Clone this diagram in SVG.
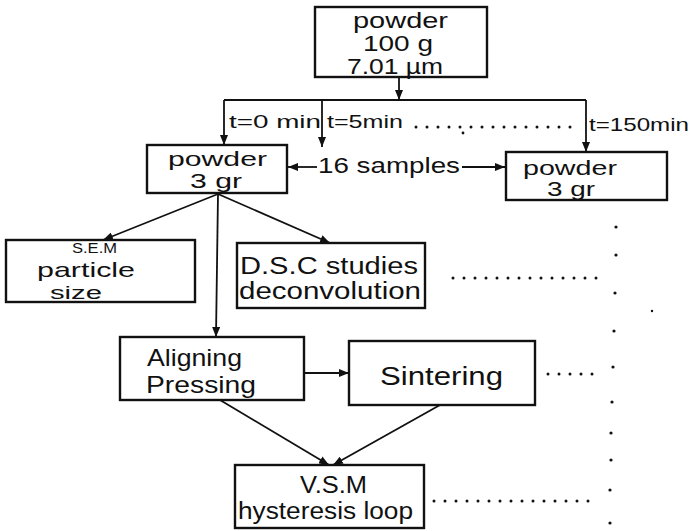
<svg xmlns="http://www.w3.org/2000/svg" width="698" height="531" viewBox="0 0 698 531">
<defs>
<marker id="ah" markerUnits="userSpaceOnUse" markerWidth="10" markerHeight="8" refX="10" refY="4" orient="auto">
<path d="M0,0 L10,4 L0,8 z" fill="#111"/>
</marker>
<style>
.box{fill:#fff;stroke:#111;stroke-width:2.4}
.t{font-family:"Liberation Sans","DejaVu Sans",sans-serif;fill:#111}
.c{stroke:#111;stroke-width:1.8;fill:none}
.a{stroke:#111;stroke-width:1.8;fill:none;marker-end:url(#ah)}
.d{stroke:#111;stroke-width:3;stroke-linecap:round;stroke-dasharray:0 11;fill:none}
.dot{fill:#111}
</style>
</defs>
<rect width="698" height="531" fill="#fff"/>
<g id="connectors">
<line class="a" x1="399" y1="77" x2="399" y2="100"/>
<line class="c" x1="224" y1="100" x2="586" y2="100"/>
<line class="a" x1="224" y1="100" x2="224" y2="145"/>
<line class="a" x1="322" y1="100" x2="322" y2="147"/>
<line class="a" x1="586" y1="100" x2="586" y2="152"/>
<line class="a" x1="317" y1="167" x2="288" y2="167"/>
<line class="a" x1="462" y1="167" x2="505" y2="167"/>
<line class="a" x1="218" y1="194" x2="103" y2="240"/>
<line class="a" x1="218" y1="194" x2="330" y2="243"/>
<line class="a" x1="218" y1="194" x2="216" y2="337"/>
<line class="a" x1="304" y1="373" x2="349" y2="373"/>
<line class="a" x1="220" y1="400" x2="329" y2="465"/>
<line class="a" x1="440" y1="405" x2="333" y2="465"/>
<line class="d" x1="416" y1="127" x2="577" y2="127"/>
<line class="d" x1="453" y1="278" x2="600" y2="278"/>
<line class="d" x1="548" y1="374" x2="593" y2="374"/>
<line class="d" x1="434" y1="501" x2="596" y2="501"/>
<circle class="dot" cx="616" cy="227" r="1.6"/>
<circle class="dot" cx="616" cy="255" r="1.6"/>
<circle class="dot" cx="615" cy="293" r="1.6"/>
<circle class="dot" cx="614" cy="331" r="1.6"/>
<circle class="dot" cx="613" cy="367" r="1.6"/>
<circle class="dot" cx="612" cy="402" r="1.6"/>
<circle class="dot" cx="611" cy="433" r="1.6"/>
<circle class="dot" cx="611" cy="460" r="1.6"/>
<circle class="dot" cx="610" cy="490" r="1.6"/>
<circle class="dot" cx="610" cy="523" r="1.6"/>
<circle class="dot" cx="652" cy="311" r="1.2"/>
<circle class="dot" cx="468" cy="49" r="1.2"/>
<circle class="dot" cx="463" cy="133" r="1.4"/>
</g>
<g id="top-powder">
<rect class="box" x="315" y="7" width="172" height="70"/>
<text class="t" x="353" y="28" font-size="22" textLength="95" lengthAdjust="spacingAndGlyphs">powder</text>
<text class="t" x="363" y="51" font-size="22" textLength="70" lengthAdjust="spacingAndGlyphs">100 g</text>
<text class="t" x="347" y="74" font-size="22" textLength="96" lengthAdjust="spacingAndGlyphs">7.01 µm</text>
</g>
<g id="time-labels">
<text class="t" x="229" y="128" font-size="19" textLength="92" lengthAdjust="spacingAndGlyphs">t=0 min</text>
<text class="t" x="327" y="128" font-size="19" textLength="76" lengthAdjust="spacingAndGlyphs">t=5min</text>
<text class="t" x="589" y="131" font-size="19" textLength="100" lengthAdjust="spacingAndGlyphs">t=150min</text>
</g>
<g id="powder-left">
<rect class="box" x="147" y="145" width="140" height="48"/>
<text class="t" x="168" y="166" font-size="20" textLength="99" lengthAdjust="spacingAndGlyphs">powder</text>
<text class="t" x="190" y="188" font-size="20" textLength="52" lengthAdjust="spacingAndGlyphs">3 gr</text>
</g>
<g id="samples-label">
<text class="t" x="318" y="173" font-size="22" textLength="142" lengthAdjust="spacingAndGlyphs">16 samples</text>
</g>
<g id="powder-right">
<rect class="box" x="506" y="152" width="161" height="48"/>
<text class="t" x="523" y="175" font-size="20" textLength="94" lengthAdjust="spacingAndGlyphs">powder</text>
<text class="t" x="547" y="196" font-size="20" textLength="48" lengthAdjust="spacingAndGlyphs">3 gr</text>
</g>
<g id="sem">
<rect class="box" x="6" y="240" width="189" height="62"/>
<text class="t" x="72" y="253" font-size="14" textLength="45" lengthAdjust="spacingAndGlyphs">S.E.M</text>
<text class="t" x="37" y="277" font-size="21" textLength="98" lengthAdjust="spacingAndGlyphs">particle</text>
<text class="t" x="50" y="299" font-size="18" textLength="52" lengthAdjust="spacingAndGlyphs">size</text>
</g>
<g id="dsc">
<rect class="box" x="237" y="243" width="188" height="65"/>
<text class="t" x="240" y="274" font-size="23" textLength="178" lengthAdjust="spacingAndGlyphs">D.S.C studies</text>
<text class="t" x="239" y="299" font-size="23" textLength="182" lengthAdjust="spacingAndGlyphs">deconvolution</text>
</g>
<g id="aligning">
<rect class="box" x="120" y="337" width="184" height="63"/>
<text class="t" x="147" y="366" font-size="24" textLength="95" lengthAdjust="spacingAndGlyphs">Aligning</text>
<text class="t" x="146" y="393" font-size="24" textLength="110" lengthAdjust="spacingAndGlyphs">Pressing</text>
</g>
<g id="sintering">
<rect class="box" x="349" y="341" width="186" height="64"/>
<text class="t" x="380" y="385" font-size="25" textLength="123" lengthAdjust="spacingAndGlyphs">Sintering</text>
</g>
<g id="vsm">
<rect class="box" x="235" y="465" width="189" height="63"/>
<text class="t" x="300" y="493" font-size="23" textLength="67" lengthAdjust="spacingAndGlyphs">V.S.M</text>
<text class="t" x="238" y="519" font-size="23" textLength="175" lengthAdjust="spacingAndGlyphs">hysteresis loop</text>
</g>
</svg>
